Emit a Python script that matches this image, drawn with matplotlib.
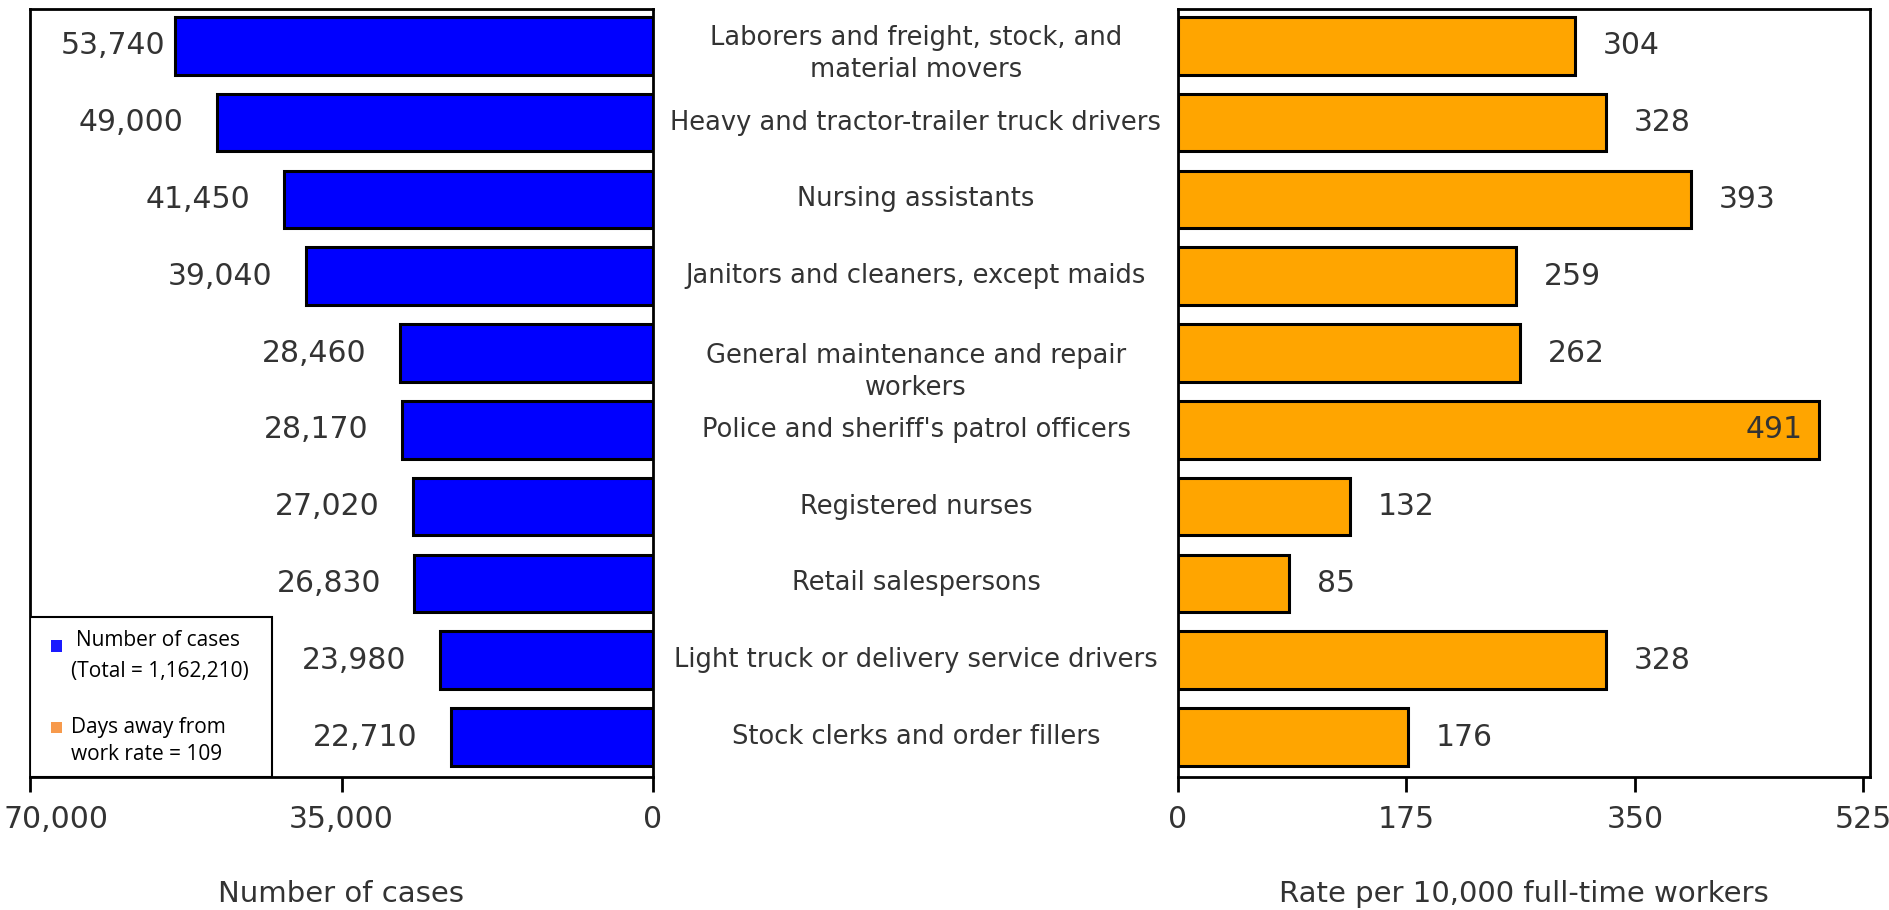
import matplotlib
matplotlib.use('Agg')
import matplotlib.pyplot as plt
from matplotlib.patches import Rectangle
from matplotlib.transforms import ScaledTranslation
import numpy as np

occupations = [
    'Laborers and freight, stock, and\nmaterial movers',
    'Heavy and tractor-trailer truck drivers',
    'Nursing assistants',
    'Janitors and cleaners, except maids',
    'General maintenance and repair\nworkers',
    "Police and sheriff's patrol officers",
    'Registered nurses',
    'Retail salespersons',
    'Light truck or delivery service drivers',
    'Stock clerks and order fillers',
]
cases = [53740, 49000, 41450, 39040, 28460, 28170, 27020, 26830, 23980, 22710]
rates = [304, 328, 393, 259, 262, 491, 132, 85, 328, 176]

case_ticks = [70000, 35000, 0]
rate_ticks = [0, 175, 350, 525]

TXT = '#333333'
plt.rcParams['font.family'] = ['DejaVu Sans']

fig = plt.figure(figsize=(18.89, 9.10), dpi=100)
axL = fig.add_axes([30/1889, 133/910, 623/1889, 768/910])
axR = fig.add_axes([1178/1889, 133/910, 692/1889, 768/910])

y = np.arange(len(occupations))

axL.barh(y, cases, height=0.75, color='#0000FF', edgecolor='black', linewidth=2.2)
axR.barh(y, rates, height=0.75, color='#FFA500', edgecolor='black', linewidth=2.2)

for ax in (axL, axR):
    ax.set_ylim(len(occupations) - 0.48, -0.48)
    ax.set_yticks([])
    for s in ax.spines.values():
        s.set_linewidth(2)
        s.set_color('black')
    ax.tick_params(axis='x', direction='out', length=11, width=2, pad=9,
                   labelsize=21.5, labelcolor=TXT)

axL.set_xlim(70000, 0)
axL.set_xticks(case_ticks)
axL.set_xticklabels([f'{t:,}' for t in case_ticks])
axL.set_xlabel('Number of cases', fontsize=21, color=TXT, labelpad=33)
# first tick label pushed inside the figure, as in the original
first = axL.get_xticklabels()[0]
first.set_horizontalalignment('left')
first.set_transform(first.get_transform() + ScaledTranslation(-0.26, 0, fig.dpi_scale_trans))

axR.set_xlim(0, 530)
axR.set_xticks(rate_ticks)
axR.set_xticklabels([str(t) for t in rate_ticks])
axR.set_xlabel('Rate per 10,000 full-time workers', fontsize=21, color=TXT, labelpad=33)

# value labels
for yi, v in zip(y, cases):
    off = -7 if v > 50000 else -24
    axL.annotate(f'{v:,}', (v, yi), xytext=(off, 0), textcoords='offset points',
                 ha='right', va='center', fontsize=21.5, color=TXT)
for yi, v in zip(y, rates):
    if v > 450:
        axR.annotate(str(v), (v, yi), xytext=(-12, 0), textcoords='offset points',
                     ha='right', va='center', fontsize=21.5, color=TXT)
    else:
        axR.annotate(str(v), (v, yi), xytext=(20, 0), textcoords='offset points',
                     ha='left', va='center', fontsize=21.5, color=TXT)

# category labels in the gap between the two panels
# (wrapped labels sit a little lower in the original)
wrap_nudge = {0: -8, 4: -19}
for i, (yi, name) in enumerate(zip(y, occupations)):
    axL.annotate(name, (0, yi), xytext=(916 - 653, wrap_nudge.get(i, 0)),
                 textcoords='offset pixels',
                 ha='center', va='center', fontsize=18.5, color=TXT,
                 linespacing=1.3, annotation_clip=False)

# legend box
axL.add_patch(Rectangle((0, 0), 242/623, 160/768, transform=axL.transAxes,
                        facecolor='white', edgecolor='black', linewidth=1.5, zorder=5))
axL.add_patch(Rectangle((21/623, 125/768), 11/623, 12/768, transform=axL.transAxes,
                        facecolor='#1A1AFF', edgecolor='none', zorder=6))
axL.add_patch(Rectangle((21/623, 44/768), 11/623, 11/768, transform=axL.transAxes,
                        facecolor='#F79A4C', edgecolor='none', zorder=6))
lkw = dict(transform=axL.transAxes, fontsize=15, color='black', zorder=7,
           family=['Open Sans', 'DejaVu Sans'], va='center', ha='left')
axL.text(46/623, 136/768, 'Number of cases', **lkw)
axL.text(41/623, 106/768, '(Total = 1,162,210)', **lkw)
axL.text(41/623, 49/768, 'Days away from', **lkw)
axL.text(41/623, 22/768, 'work rate = 109', **lkw)

fig.savefig('out.png', dpi=100, facecolor='white')
